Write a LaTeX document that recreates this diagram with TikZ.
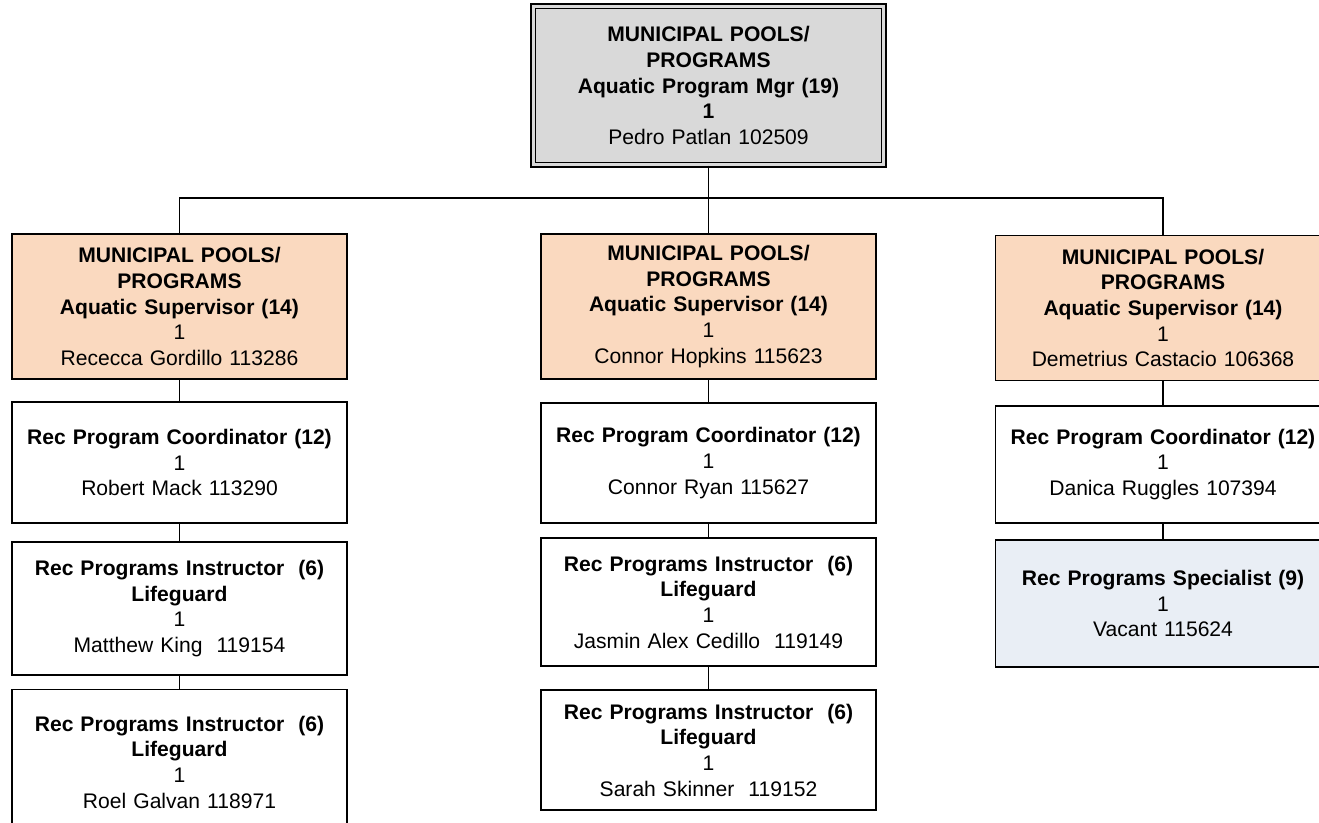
\documentclass[tikz,border=0pt]{standalone}
\usepackage{fontspec}
\setmainfont{Liberation Sans}
\usepackage{tikz}
\definecolor{peach}{HTML}{FAD9BF}
\definecolor{mgrgray}{HTML}{D9D9D9}
\definecolor{paleblue}{HTML}{E9EEF5}

\begin{document}
\begin{tikzpicture}[x=0.02cm,y=-0.02cm,line width=0.8pt,font=\fontsize{12}{14.6}\selectfont]
  \tikzstyle{post}=[rectangle,draw,align=center,text width=6.5cm,inner sep=0pt,minimum width=6.7cm]
  \tikzstyle{mgr}=[post,fill=mgrgray,double,double=mgrgray,double distance=0.06cm,minimum width=7.02cm,minimum height=3.18cm,text width=6.8cm]
  \tikzstyle{sup}=[post,fill=peach,minimum height=2.9cm]
  \tikzstyle{staff}=[post,fill=white]
  \tikzstyle{vacant}=[post,fill=paleblue]
  \useasboundingbox (0,0) rectangle (1319,822);
  \clip (0,0) rectangle (1319,822);

  \node [mgr] (top) at (708.5,85.5) {\textbf{MUNICIPAL POOLS/}\\\textbf{PROGRAMS}\\\textbf{Aquatic Program Mgr (19)}\\\textbf{1}\\Pedro Patlan 102509};

  \node [sup] (supA) at (179.5,306.5) {\textbf{MUNICIPAL POOLS/}\\\textbf{PROGRAMS}\\\textbf{Aquatic Supervisor (14)}\\1\\Rececca Gordillo 113286};
  \node [sup] (supB) at (708.5,306.5) {\textbf{MUNICIPAL POOLS/}\\\textbf{PROGRAMS}\\\textbf{Aquatic Supervisor (14)}\\1\\Connor Hopkins 115623};
  \node [sup] (supC) at (1163,308) {\textbf{MUNICIPAL POOLS/}\\\textbf{PROGRAMS}\\\textbf{Aquatic Supervisor (14)}\\1\\Demetrius Castacio 106368};

  \node [staff,minimum height=2.42cm] (coordA) at (179.5,462.5) {\textbf{Rec Program Coordinator (12)}\\1\\Robert Mack 113290};
  \node [staff,minimum height=2.4cm] (coordB) at (708.5,463) {\textbf{Rec Program Coordinator (12)}\\1\\Connor Ryan 115627};
  \node [staff,minimum height=2.34cm] (coordC) at (1163,464.5) {\textbf{Rec Program Coordinator (12)}\\1\\Danica Ruggles 107394};

  \node [staff,minimum height=2.66cm] (instA1) at (179.5,608.5) {\textbf{Rec Programs Instructor~~(6)}\\\textbf{Lifeguard}\\1\\Matthew King~~119154};
  \node [staff,minimum height=2.9cm] (instA2) at (179.5,762) {\textbf{Rec Programs Instructor~~(6)}\\\textbf{Lifeguard}\\1\\Roel Galvan 118971};
  \node [staff,minimum height=2.56cm] (instB1) at (708.5,602) {\textbf{Rec Programs Instructor~~(6)}\\\textbf{Lifeguard}\\1\\Jasmin Alex Cedillo~~119149};
  \node [staff,minimum height=2.4cm] (instB2) at (708.5,750) {\textbf{Rec Programs Instructor~~(6)}\\\textbf{Lifeguard}\\1\\Sarah Skinner~~119152};
  \node [vacant,minimum height=2.54cm] (specC) at (1163,603.5) {\textbf{Rec Programs Specialist (9)}\\1\\Vacant 115624};

  \coordinate (bar) at (0,198);
  \draw (top.south) -- (supB.north);
  \draw (top.south |- bar) -| (supA.north);
  \draw (top.south |- bar) -| (supC.north);

  \path[draw] (supA) edge (coordA)
        (coordA) edge (instA1)
        (instA1) edge (instA2)
        (supB) edge (coordB)
        (coordB) edge (instB1)
        (instB1) edge (instB2)
        (supC) edge (coordC)
        (coordC) edge (specC);
\end{tikzpicture}
\end{document}
